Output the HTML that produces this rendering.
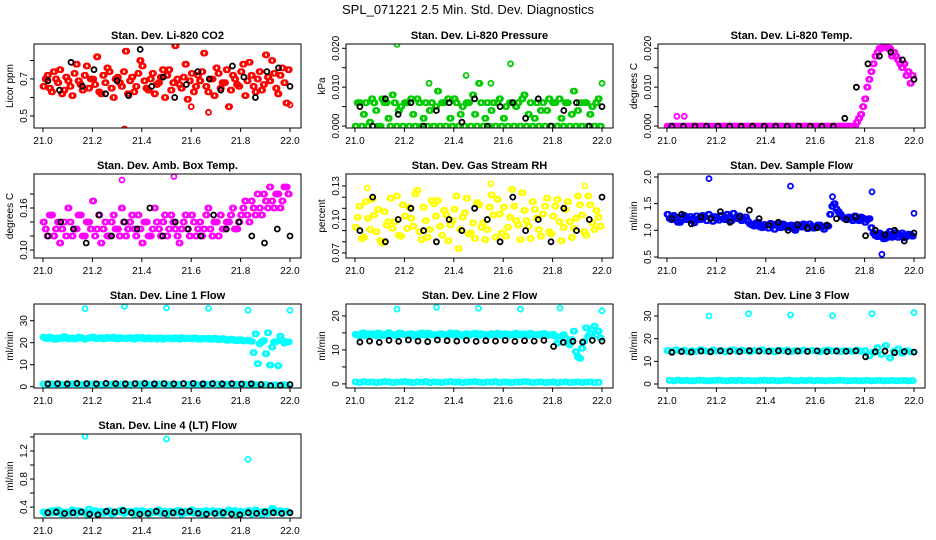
<!DOCTYPE html>
<html><head><meta charset="utf-8"><style>
html,body{margin:0;padding:0;background:#fff;}
svg{display:block;font-family:"Liberation Sans",sans-serif;}
</style></head><body>
<svg id="chart" width="936" height="540" viewBox="0 0 936 540">
<text x="468" y="14" text-anchor="middle" font-size="13">SPL_071221  2.5 Min. Std. Dev. Diagnostics</text>
</svg>
<script>
// ---- data arrays (x values evenly spaced over 21.0..22.0 by index) ----
const xTicks = [21.0, 21.2, 21.4, 21.6, 21.8, 22.0];
const xTickLabels = ["21.0", "21.2", "21.4", "21.6", "21.8", "22.0"];

const co2Main = [0.66,0.72,0.63,0.70,0.75,0.64,0.69,0.61,0.78,0.67,0.72,0.65,0.70,0.82,0.62,0.68,0.74,0.60,0.71,0.66,0.85,0.69,0.63,0.73,0.77,0.65,0.70,0.62,0.68,0.75,0.72,0.64,0.88,0.67,0.71,0.59,0.73,0.66,0.69,0.84,0.63,0.70,0.76,0.65,0.68,0.55,0.72,0.67,0.74,0.61,0.79,0.66,0.70,0.64,0.83,0.69,0.73,0.62,0.76,0.57];
const co2Main2 = [0.70,0.65,0.74,0.68,0.62,0.71,0.66,0.73,0.69,0.64,0.77,0.70,0.67,0.63,0.72,0.76,0.65,0.70,0.68,0.74,0.62,0.71,0.66,0.80,0.69,0.64,0.73,0.67,0.71,0.60,0.75,0.68,0.70,0.65,0.78,0.69,0.63,0.72,0.74,0.66,0.70,0.61,0.73,0.68,0.75,0.64,0.70,0.66,0.78,0.69,0.72,0.63,0.74,0.67,0.71,0.80,0.65,0.72,0.68,0.75];
const co2Black = [0.69,0.64,0.79,0.66,0.75,0.62,0.69,0.61,0.86,0.66,0.71,0.60,0.67,0.74,0.70,0.64,0.77,0.71,0.60,0.74,0.76,0.66];
const co2OutX = [21.33, 21.67, 22.0, 21.6];
const co2OutY = [0.43, 0.52, 0.56, 0.55];

const presMain = [0.000,0.006,0.003,0.000,0.007,0.004,0.000,0.006,0.002,0.008,0.000,0.005,0.006,0.000,0.003,0.007,0.000,0.006,0.004,0.000,0.009,0.006,0.000,0.002,0.007,0.000,0.005,0.006,0.000,0.003,0.011,0.000,0.006,0.004,0.000,0.007,0.002,0.000,0.006,0.005,0.000,0.008,0.003,0.000,0.006,0.004,0.000,0.007,0.006,0.000,0.002,0.006,0.000,0.009,0.004,0.000,0.006,0.003,0.000,0.007];
const presMain2 = [0.006,0.000,0.006,0.001,0.006,0.000,0.007,0.006,0.000,0.006,0.004,0.000,0.006,0.007,0.000,0.006,0.002,0.000,0.006,0.005,0.000,0.006,0.007,0.000,0.006,0.003,0.000,0.006,0.008,0.000,0.006,0.002,0.000,0.006,0.006,0.000,0.005,0.006,0.000,0.006,0.007,0.000,0.006,0.002,0.000,0.006,0.004,0.000,0.006,0.007,0.000,0.006,0.003,0.000,0.006,0.006,0.000,0.005,0.006,0.000];
const presBlack = [0.005,0.000,0.007,0.003,0.006,0.000,0.004,0.006,0.001,0.007,0.000,0.005,0.006,0.002,0.007,0.000,0.004,0.006,0.000,0.005];
const presOutX = [21.17, 21.63, 21.45, 22.0, 21.55, 21.30];
const presOutY = [0.021, 0.016, 0.013, 0.011, 0.011, 0.011];

const tempMain = [0,0,0,0,0,0,0,0,0,0,0,0,0,0,0,0,0,0,0,0,0,0,0,0,0,0,0,0,0,0,0,0,0,0,0,0,0,0,0,0,0,0,0,0,0,0,0.001,0.003,0.007,0.012,0.016,0.019,0.020,0.021,0.020,0.019,0.017,0.015,0.013,0.011];
const tempMain2 = [0,0,0,0,0,0,0,0,0,0,0,0,0,0,0,0,0,0,0,0,0,0,0,0,0,0,0,0,0,0,0,0,0,0,0,0,0,0,0,0,0,0,0,0,0,0,0.002,0.005,0.010,0.014,0.018,0.020,0.021,0.020,0.018,0.018,0.016,0.016,0.014,0.013];
const tempBlack = [0,0,0,0,0,0,0,0,0,0,0,0,0,0,0,0.002,0.010,0.016,0.018,0.019,0.017,0.012];
const tempOutX = [21.04, 21.07];
const tempOutY = [0.0025, 0.0025];

const ambMain = [0.14,0.12,0.15,0.13,0.11,0.14,0.16,0.12,0.13,0.15,0.12,0.14,0.17,0.13,0.11,0.14,0.12,0.15,0.13,0.16,0.12,0.14,0.13,0.15,0.11,0.14,0.12,0.16,0.13,0.14,0.12,0.15,0.13,0.11,0.14,0.13,0.15,0.12,0.14,0.13,0.16,0.12,0.14,0.15,0.13,0.14,0.16,0.13,0.15,0.17,0.14,0.16,0.18,0.15,0.17,0.19,0.16,0.18,0.17,0.19];
const ambMain2 = [0.13,0.15,0.12,0.14,0.13,0.12,0.14,0.13,0.15,0.12,0.14,0.13,0.12,0.15,0.13,0.12,0.14,0.13,0.12,0.14,0.13,0.15,0.12,0.13,0.14,0.12,0.13,0.14,0.12,0.15,0.13,0.14,0.12,0.13,0.15,0.12,0.14,0.13,0.12,0.15,0.13,0.14,0.12,0.13,0.14,0.15,0.13,0.14,0.16,0.15,0.17,0.15,0.16,0.18,0.16,0.17,0.18,0.16,0.19,0.18];
const ambBlack = [0.12,0.14,0.13,0.11,0.15,0.12,0.14,0.13,0.16,0.12,0.14,0.13,0.12,0.15,0.13,0.14,0.12,0.11,0.13,0.12];
const ambOutX = [21.53, 21.32];
const ambOutY = [0.205, 0.200];

const rhMain = [0.093,0.112,0.084,0.101,0.118,0.089,0.081,0.107,0.098,0.092,0.121,0.085,0.103,0.111,0.094,0.126,0.082,0.099,0.091,0.114,0.117,0.086,0.104,0.095,0.109,0.074,0.102,0.119,0.088,0.083,0.113,0.097,0.091,0.122,0.084,0.105,0.111,0.093,0.127,0.099,0.082,0.108,0.094,0.116,0.101,0.085,0.112,0.089,0.103,0.118,0.081,0.109,0.098,0.092,0.121,0.104,0.086,0.113,0.091,0.102];
const rhMain2 = [0.102,0.083,0.116,0.091,0.104,0.109,0.079,0.095,0.119,0.098,0.086,0.113,0.092,0.101,0.123,0.089,0.111,0.084,0.117,0.103,0.094,0.108,0.081,0.099,0.121,0.091,0.106,0.087,0.097,0.115,0.093,0.082,0.111,0.104,0.118,0.088,0.085,0.102,0.112,0.095,0.124,0.099,0.083,0.109,0.091,0.105,0.119,0.087,0.112,0.098,0.093,0.116,0.084,0.101,0.113,0.089,0.121,0.097,0.108,0.094];
const rhBlack = [0.09,0.12,0.08,0.10,0.11,0.09,0.08,0.10,0.09,0.11,0.10,0.08,0.12,0.09,0.10,0.08,0.11,0.09,0.10,0.12];
const rhOutX = [21.05, 21.55, 21.93];
const rhOutY = [0.128, 0.132, 0.130];

const flowMain = [1.30,1.20,1.25,1.15,1.28,1.22,1.18,1.27,1.20,1.25,1.30,1.17,1.23,1.28,1.20,1.25,1.32,1.22,1.18,1.25,1.12,1.08,1.15,1.05,1.10,1.13,1.02,1.08,1.12,1.05,1.10,1.00,1.07,1.12,1.03,1.08,1.05,1.10,1.02,1.08,1.45,1.40,1.30,1.22,1.25,1.18,1.20,1.25,1.15,1.22,0.95,0.88,0.92,0.85,0.98,0.90,0.87,0.95,0.88,0.92];
const flowMain2 = [1.22,1.28,1.15,1.24,1.20,1.26,1.14,1.22,1.28,1.18,1.23,1.26,1.19,1.22,1.30,1.18,1.24,1.27,1.21,1.17,1.10,1.14,1.06,1.11,1.04,1.09,1.12,1.05,1.10,1.07,1.03,1.11,1.06,1.09,1.12,1.04,1.10,1.06,1.08,1.30,1.50,1.35,1.25,1.20,1.22,1.27,1.18,1.23,1.20,1.05,0.90,0.95,0.84,0.93,0.87,0.96,0.91,0.86,0.93,0.89];
const flowBlack = [1.22,1.30,1.12,1.25,1.22,1.35,1.15,1.25,1.38,1.22,1.10,1.15,1.00,1.10,1.05,1.05,1.10,1.22,1.20,1.25,0.90,1.00,0.92,1.00,0.80,0.95];
const flowOutX = [21.17, 21.50, 21.67, 21.83, 21.87, 22.0];
const flowOutY = [1.97, 1.83, 1.63, 1.72, 0.55, 1.32];

const l1Upper = [22.5,21.8,22.3,21.5,22.0,22.8,21.7,22.2,21.9,22.4,21.6,22.1,22.6,21.8,22.3,21.9,22.0,22.5,21.7,22.2,21.8,22.3,21.6,22.0,22.4,21.9,21.7,22.1,22.2,21.5,22.0,21.8,22.3,21.6,22.1,21.9,21.7,22.2,21.5,21.8,22.0,21.6,21.9,21.4,21.7,21.2,21.5,20.9,21.3,20.8,21.0,15.5,10.5,20.5,15.0,9.8,20.3,9.6,21.0,20.2];
const l1Upper2 = [22.0,22.6,21.6,22.2,21.9,22.3,22.0,21.6,22.5,22.0,21.8,22.4,21.9,22.2,21.7,22.4,22.1,21.8,22.3,21.9,22.2,21.8,22.4,22.1,21.7,22.3,22.0,21.6,22.2,21.9,22.2,21.7,21.9,22.3,21.8,22.0,22.2,21.6,22.0,21.7,21.5,22.1,21.3,21.8,21.1,21.6,21.0,21.4,20.8,21.2,20.6,24.0,19.5,21.0,24.5,18.0,20.5,23.0,19.8,20.4];
const l1Lower = [1.2,1.0,1.3,1.1,1.2,1.0,1.1,1.3,1.2,1.0,1.1,1.2,1.3,1.1,1.0,1.2,1.1,1.3,1.0,1.2,1.1,1.0,1.2,1.3,1.1,1.2,1.0,1.1,1.2,1.3,1.1,1.0,1.2,1.1,1.3,1.0,1.2,1.1,1.0,1.2,1.1,1.3,1.2,1.0,1.1,1.2,1.0,1.1,1.2,1.0,1.1,1.0,0.8,1.0,0.9,0.6,0.8,0.5,0.9,0.8];
const l1Black = [1.3,1.4,1.3,1.5,1.4,1.3,1.5,1.4,1.3,1.4,1.5,1.3,1.4,1.3,1.4,1.5,1.3,1.4,1.3,1.4,1.2,1.3,1.0,0.5,0.6,1.0];
const l1OutX = [21.17, 21.33, 21.50, 21.67, 21.83, 22.0];
const l1OutY = [35.5, 36.5, 35.8, 35.6, 34.8, 34.7];

const l2Upper = [14.6,14.2,15.0,14.4,14.8,14.1,14.7,14.3,15.1,14.5,14.2,14.9,14.4,14.7,14.1,14.6,15.0,14.3,14.8,14.5,14.2,14.7,14.4,15.0,14.3,14.6,14.1,14.8,14.5,14.9,14.2,14.6,14.4,14.8,14.3,14.7,14.5,14.1,14.6,14.9,14.4,14.7,14.2,14.6,14.5,14.3,14.8,14.4,14.6,12.0,14.0,13.5,11.5,15.5,8.0,10.5,16.5,14.8,17.0,15.5];
const l2Upper2 = [14.3,14.9,14.1,14.7,14.4,15.0,14.2,14.8,14.5,14.3,14.9,14.6,14.2,14.8,14.5,14.3,14.7,14.9,14.4,14.2,14.8,14.5,14.3,14.7,14.9,14.4,14.6,14.2,14.7,14.4,14.8,14.5,14.3,14.6,14.9,14.2,14.8,14.6,14.4,14.3,14.7,14.5,14.9,14.3,14.6,14.8,14.2,14.5,14.0,13.0,14.5,12.0,13.0,9.5,7.5,12.5,14.0,16.0,14.5,13.5];
const l2Lower = [0.6,0.4,0.7,0.5,0.6,0.4,0.5,0.7,0.6,0.4,0.5,0.6,0.7,0.5,0.4,0.6,0.5,0.7,0.4,0.6,0.5,0.4,0.6,0.7,0.5,0.6,0.4,0.5,0.6,0.7,0.5,0.4,0.6,0.5,0.7,0.4,0.6,0.5,0.4,0.6,0.5,0.7,0.6,0.4,0.5,0.6,0.4,0.5,0.6,0.4,0.5,0.6,0.4,0.5,0.6,0.4,0.5,0.6,0.4,0.5];
const l2Black = [12.3,12.6,12.2,12.8,12.5,12.9,12.6,12.4,12.9,12.7,12.6,12.8,12.5,12.7,12.6,12.8,12.5,12.7,12.6,12.8,11.0,12.2,12.5,12.3,12.8,12.6];
const l2OutX = [21.17, 21.33, 21.50, 21.67, 21.83, 22.0];
const l2OutY = [22.0, 22.5, 22.2, 22.0, 22.3, 21.5];

const l3Upper = [14.8,14.3,15.1,14.5,14.9,14.2,14.7,14.4,15.2,14.6,14.3,15.0,14.5,14.8,14.2,14.7,15.1,14.4,14.9,14.6,14.3,14.8,14.5,15.1,14.4,14.7,14.2,14.9,14.6,15.0,14.3,14.7,14.5,14.9,14.4,14.8,14.6,14.2,14.7,15.0,14.5,14.8,14.3,14.7,14.6,14.4,14.9,14.5,14.7,12.5,14.0,16.0,13.0,17.0,11.5,14.5,15.5,13.5,14.8,14.2];
const l3Lower = [1.6,1.4,1.7,1.5,1.6,1.4,1.5,1.7,1.6,1.4,1.5,1.6,1.7,1.5,1.4,1.6,1.5,1.7,1.4,1.6,1.5,1.4,1.6,1.7,1.5,1.6,1.4,1.5,1.6,1.7,1.5,1.4,1.6,1.5,1.7,1.4,1.6,1.5,1.4,1.6,1.5,1.7,1.6,1.4,1.5,1.6,1.4,1.5,1.6,1.4,1.5,1.6,1.4,1.5,1.6,1.4,1.5,1.6,1.4,1.5];
const l3Black = [14.0,14.3,14.1,14.5,14.2,14.6,14.4,14.3,14.7,14.5,14.4,14.6,14.3,14.5,14.4,14.6,14.3,14.5,14.4,14.6,12.0,14.2,14.5,13.8,14.3,14.1];
const l3OutX = [21.17, 21.33, 21.50, 21.67, 21.83, 22.0];
const l3OutY = [30.0, 31.0, 30.5, 30.2, 31.0, 31.5];

const l4Main = [0.33,0.31,0.35,0.32,0.34,0.30,0.33,0.36,0.31,0.34,0.32,0.37,0.33,0.30,0.34,0.32,0.35,0.31,0.33,0.36,0.32,0.34,0.30,0.33,0.35,0.31,0.34,0.32,0.36,0.33,0.30,0.34,0.32,0.35,0.31,0.33,0.36,0.32,0.34,0.30,0.33,0.35,0.31,0.34,0.32,0.36,0.33,0.30,0.34,0.32,0.35,0.31,0.33,0.29,0.34,0.32,0.36,0.33,0.31,0.34];
const l4Main2 = [0.31,0.34,0.32,0.36,0.30,0.33,0.31,0.34,0.35,0.32,0.30,0.33,0.35,0.32,0.31,0.34,0.30,0.33,0.35,0.31,0.34,0.32,0.35,0.31,0.33,0.30,0.32,0.35,0.31,0.34,0.33,0.31,0.35,0.30,0.34,0.32,0.31,0.34,0.30,0.35,0.32,0.31,0.34,0.30,0.33,0.31,0.35,0.32,0.31,0.34,0.30,0.36,0.32,0.34,0.31,0.38,0.32,0.35,0.33,0.32];
const l4Black = [0.32,0.33,0.31,0.32,0.33,0.30,0.29,0.34,0.33,0.35,0.32,0.30,0.31,0.34,0.31,0.32,0.33,0.34,0.31,0.30,0.31,0.32,0.30,0.29,0.32,0.31,0.33,0.32,0.31,0.32];
const l4OutX = [21.17, 21.50, 21.83];
const l4OutY = [1.41, 1.37, 1.08];

// ---- panel definitions ----
const panels = [
 {name:"co2", title:"Stan. Dev. Li-820 CO2", ylab:"Licor ppm", col:"#ff0000", r:0,c:0, ymin:0.435, ymax:0.889,
  ticks:[0.5,0.6,0.7,0.8], labels:{"0.5":"0.5","0.7":"0.7"}, series:[co2Main,co2Main2], black:[co2Black], outX:co2OutX, outY:co2OutY},
 {name:"pressure", title:"Stan. Dev. Li-820 Pressure", ylab:"kPa", col:"#00cc00", r:0,c:1, ymin:-0.0005, ymax:0.0211,
  ticks:[0,0.005,0.01,0.015,0.02], labels:{"0":"0.000","0.01":"0.010","0.02":"0.020"}, series:[presMain,presMain2], black:[presBlack], outX:presOutX, outY:presOutY},
 {name:"li820-temp", title:"Stan. Dev. Li-820 Temp.", ylab:"degrees C", col:"#ff00ff", r:0,c:2, ymin:-0.0005, ymax:0.0211,
  ticks:[0,0.005,0.01,0.015,0.02], labels:{"0":"0.000","0.01":"0.010","0.02":"0.020"}, series:[tempMain,tempMain2], black:[tempBlack], outX:tempOutX, outY:tempOutY},
 {name:"amb-temp", title:"Stan. Dev. Amb. Box Temp.", ylab:"degrees C", col:"#ff00ff", r:1,c:0, ymin:0.0886, ymax:0.2086,
  ticks:[0.10,0.12,0.14,0.16,0.18], labels:{"0.1":"0.10","0.16":"0.16"}, series:[ambMain,ambMain2], black:[ambBlack], outX:ambOutX, outY:ambOutY},
 {name:"gas-rh", title:"Stan. Dev. Gas Stream RH", ylab:"percent", col:"#ffff00", r:1,c:1, ymin:0.0655, ymax:0.1407,
  ticks:[0.07,0.08,0.09,0.10,0.11,0.12,0.13], labels:{"0.07":"0.07","0.1":"0.10","0.13":"0.13"}, series:[rhMain,rhMain2], black:[rhBlack], outX:rhOutX, outY:rhOutY},
 {name:"sample-flow", title:"Stan. Dev. Sample Flow", ylab:"ml/min", col:"#0000ff", r:1,c:2, ymin:0.481, ymax:2.056,
  ticks:[0.5,1.0,1.5,2.0], labels:{"0.5":"0.5","1":"1.0","1.5":"1.5","2":"2.0"}, series:[flowMain,flowMain2], black:[flowBlack], outX:flowOutX, outY:flowOutY},
 {name:"line1-flow", title:"Stan. Dev. Line 1 Flow", ylab:"ml/min", col:"#00ffff", r:2,c:0, ymin:-0.6, ymax:37.6,
  ticks:[0,10,20,30], labels:{"0":"0","10":"10","20":"20","30":"30"}, series:[l1Upper,l1Upper2,l1Lower], black:[l1Black], outX:l1OutX, outY:l1OutY},
 {name:"line2-flow", title:"Stan. Dev. Line 2 Flow", ylab:"ml/min", col:"#00ffff", r:2,c:1, ymin:-1.2, ymax:23.5,
  ticks:[0,5,10,15,20], labels:{"0":"0","10":"10","20":"20"}, series:[l2Upper,l2Upper2,l2Lower], black:[l2Black], outX:l2OutX, outY:l2OutY},
 {name:"line3-flow", title:"Stan. Dev. Line 3 Flow", ylab:"ml/min", col:"#00ffff", r:2,c:2, ymin:-1.76, ymax:35.3,
  ticks:[0,10,20,30], labels:{"0":"0","10":"10","20":"20","30":"30"}, series:[l3Upper,l3Lower], black:[l3Black], outX:l3OutX, outY:l3OutY},
 {name:"line4-flow", title:"Stan. Dev. Line 4 (LT) Flow", ylab:"ml/min", col:"#00ffff", r:3,c:0, ymin:0.244, ymax:1.442,
  ticks:[0.4,0.6,0.8,1.0,1.2,1.4], labels:{"0.4":"0.4","0.8":"0.8","1.2":"1.2"}, series:[l4Main,l4Main2], black:[l4Black], outX:l4OutX, outY:l4OutY}
];

const NS = "http://www.w3.org/2000/svg";
const svg = document.getElementById("chart");
function mk(tag, attrs, parent){
  const e = document.createElementNS(NS, tag);
  for (const k in attrs) e.setAttribute(k, attrs[k]);
  parent.appendChild(e);
  return e;
}

panels.forEach(p => {
  const left = 34 + 312*p.c, top = 44 + 130*p.r, w = 267, h = 84;
  const xs = v => left + 9 + (v - 21.0) * 247;
  const ys = v => top + h - (v - p.ymin) / (p.ymax - p.ymin) * h;
  const g = mk("g", {}, svg);
  
  

  const t = mk("text", {x: left + w/2, y: top - 5, "text-anchor":"middle", "font-size":"11", "font-weight":"bold"}, g);
  t.textContent = p.title;
  
  

  const yl = mk("text", {x: 0, y: 0, "text-anchor":"middle", "font-size":"10", transform:`translate(${left-21},${top+h/2}) rotate(-90)`}, g);
  yl.textContent = p.ylab;
  
  

  const clip = mk("clipPath", {id: "clip-" + p.name}, g);
  mk("rect", {x:left, y:top, width:w, height:h}, clip);
  const pts = mk("g", {"clip-path": `url(#clip-${p.name})`, fill:"none", "stroke-width":"1.8"}, g);
  
  

  function dot(x, y, col, nm){
    const c = mk("circle", {cx: xs(x).toFixed(1), cy: ys(y).toFixed(1), r: 2.5, stroke: col}, pts);
    
    
  }
  // each stored value represents a short run of samples: draw it as a small horizontal cluster
  p.series.forEach((arr, si) => {
    const n = arr.length;
    const step = 1 / n;
    arr.forEach((v, i) => {
      const x0 = 21.0 + i * step + (si % 2 ? step / 2 : 0);
      dot(x0, v, p.col, p.name + '-point');
      dot(x0 + step / 3, v, p.col, p.name + '-point');
    });
  });
  p.outX.forEach((x, i) => dot(x, p.outY[i], p.col, p.name + '-outlier'));
  p.black.forEach(arr => {
    arr.forEach((v, i) => dot(21.02 + 0.98 * i / (arr.length - 1), v, "#000", p.name + '-ref-point'));
  });

  const box = mk("rect", {x:left, y:top, width:w, height:h, fill:"none", stroke:"#000", "stroke-width":"1"}, g);
  
  

  xTicks.forEach((v, i) => {
    mk("line", {x1: xs(v), x2: xs(v), y1: top+h, y2: top+h+4, stroke:"#000"}, g);
    const tl = mk("text", {x: xs(v), y: top+h+16, "text-anchor":"middle", "font-size":"10"}, g);
    tl.textContent = xTickLabels[i];
    
    
  });
  p.ticks.forEach(v => {
    const y = ys(v);
    mk("line", {x1: left-4, x2: left, y1: y, y2: y, stroke:"#000"}, g);
    const key = String(+v.toFixed(4));
    if (p.labels[key] !== undefined) {
      const tl = mk("text", {x:0, y:0, "text-anchor":"middle", "font-size":"10", transform:`translate(${left-7},${y}) rotate(-90)`}, g);
      tl.textContent = p.labels[key];
      
      
    }
  });
});
</script>
</body></html>
